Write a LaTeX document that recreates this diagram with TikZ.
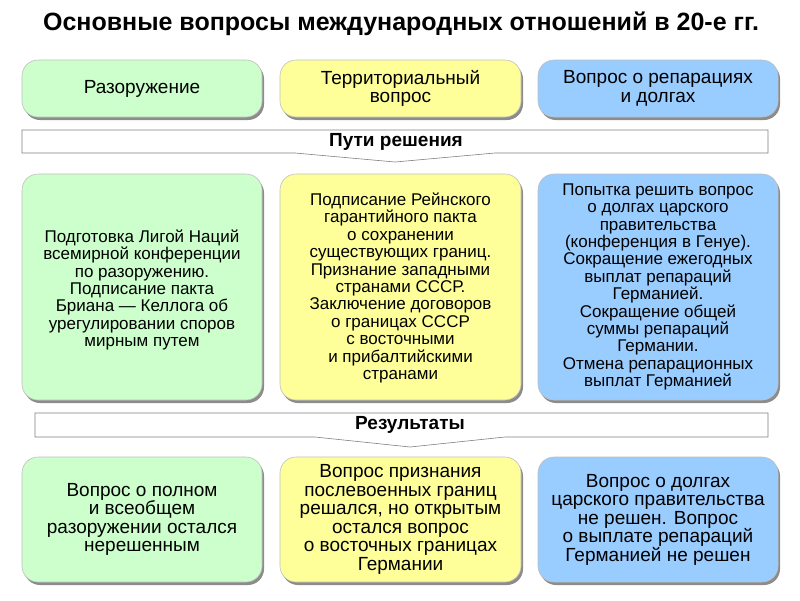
\documentclass[tikz,border=0pt]{standalone}
\usepackage{fontspec}
\setmainfont{Liberation Sans}
\definecolor{gr}{HTML}{CCFFCC}
\definecolor{ye}{HTML}{FFFF99}
\definecolor{bl}{HTML}{99CCFF}
\begin{document}
\begin{tikzpicture}[x=1pt,y=-1pt,
 box/.style={rounded corners=16pt,draw=black!25,line width=0.6pt},
 sh/.style={rounded corners=16pt,fill=black!45},
 txt/.style={align=center,inner sep=0pt,font=\fontsize{17}{17.4}\selectfont},
 txtb/.style={align=center,inner sep=0pt,font=\fontsize{19}{18.5}\selectfont},
 ban/.style={draw=black!50,fill=white,line width=0.6pt}]
\useasboundingbox (0,0) rectangle (800,600);
\node (title) at (401,24) {\fontsize{25}{28}\selectfont\bfseries Основные вопросы международных отношений в 20-е гг.};
% boxes
\foreach \n/\xa/\xb/\ya/\yb/\c in {a1/22/262/60/117/gr,a2/280/521/60/117/ye,a3/538/778/60/117/bl,
 b1/22/262/174/400/gr,b2/280/521/174/400/ye,b3/538/778/174/400/bl,
 c1/22/262/457/582/gr,c2/280/521/457/582/ye,c3/538/778/457/582/bl}{
 \fill[sh] (\xa+2,\ya+3) rectangle (\xb+2,\yb+3);
 \draw[box,fill=\c] (\xa,\ya) rectangle (\xb,\yb);
 \coordinate (\n) at ({(\xa+\xb)/2},{(\ya+\yb)/2});
}
\node[txtb] (t1) at (a1) {Разоружение};
\node[txtb] (t2) at (a2) {Территориальный\\вопрос};
\node[txtb] (t3) at (a3) {Вопрос о репарациях\\и долгах};
% banners
\draw[ban] (22,130) -- (768,130) -- (768,153) -- (495,153) -- (395,162) -- (295,153) -- (22,153) -- cycle;
\node[font=\fontsize{19}{20}\selectfont\bfseries] (p1) at (396,141.5) {Пути решения};
\draw[ban] (35,413) -- (768,413) -- (768,437) -- (505,437) -- (410,447) -- (315,437) -- (35,437) -- cycle;
\node[font=\fontsize{19}{20}\selectfont\bfseries] (p2) at (410,425) {Результаты};
\node[txt] (u1) at ([yshift=-3pt]b1) {Подготовка Лигой Наций\\всемирной конференции\\по разоружению.\\Подписание пакта\\Бриана — Келлога об\\урегулировании споров\\мирным путем};
\node[txt] (u2) at ([yshift=-1pt]b2) {Подписание Рейнского\\гарантийного пакта\\о сохранении\\существующих границ.\\Признание западными\\странами СССР.\\Заключение договоров\\о границах СССР\\с восточными\\и прибалтийскими\\странами};
\node[txt] (u3) at (b3) {Попытка решить вопрос\\о долгах царского\\правительства\\(конференция в Генуе).\\Сокращение ежегодных\\выплат репараций\\Германией.\\Сокращение общей\\суммы репараций\\Германии.\\Отмена репарационных\\выплат Германией};
\node[txtb] (v1) at (c1) {Вопрос о полном\\и всеобщем\\разоружении остался\\нерешенным};
\node[txtb] (v2) at (c2) {Вопрос признания\\послевоенных границ\\решался, но открытым\\остался вопрос\\о восточных границах\\Германии};
\node[txtb] (v3) at (c3) {Вопрос о долгах\\царского правительства\\не решен. Вопрос\\о выплате репараций\\Германией не решен};
\end{tikzpicture}
\end{document}
